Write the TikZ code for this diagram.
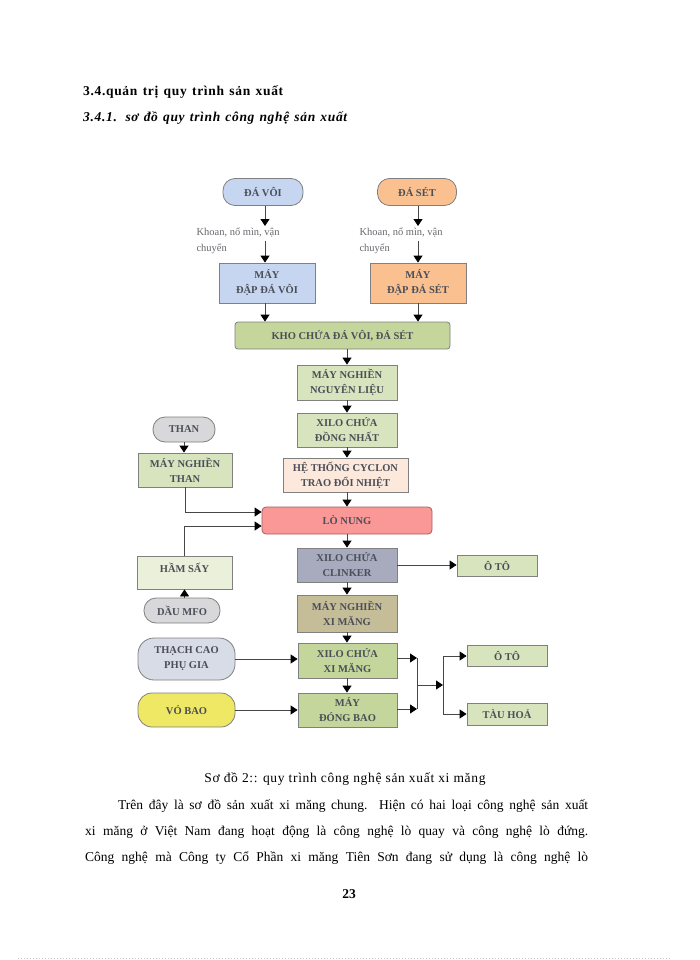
\documentclass[tikz,border=0pt]{standalone}
\usepackage{fontspec}
\setmainfont{Liberation Serif}
\newfontfamily\hsp[LetterSpace=5]{Liberation Serif}
\usetikzlibrary{arrows.meta}
\definecolor{boxline}{RGB}{128,128,128}
\definecolor{boxtext}{RGB}{75,78,88}
\definecolor{lnc}{RGB}{70,70,70}
\definecolor{fblue}{RGB}{198,214,240}
\definecolor{forange}{RGB}{250,192,144}
\definecolor{fkho}{RGB}{196,214,155}
\definecolor{flg}{RGB}{215,228,189}
\definecolor{fcyc}{RGB}{252,233,220}
\definecolor{fred}{RGB}{250,152,152}
\definecolor{redline}{RGB}{170,90,90}
\definecolor{fclink}{RGB}{168,171,190}
\definecolor{fham}{RGB}{234,240,218}
\definecolor{fgray}{RGB}{216,216,218}
\definecolor{fkhaki}{RGB}{196,189,151}
\definecolor{fxm}{RGB}{196,214,155}
\definecolor{fthach}{RGB}{216,220,230}
\definecolor{fyel}{RGB}{238,232,100}
\definecolor{noteclr}{RGB}{105,105,110}
\begin{document}
\begin{tikzpicture}[x=1pt,y=-1pt,
  box/.style={draw=boxline, line width=0.8pt, inner sep=0pt, align=center,
    font=\fontsize{10.5}{12.5}\selectfont\bfseries, text=boxtext},
  pill/.style={box, rounded corners=12pt},
  rbox/.style={box, rounded corners=3pt},
  arr/.style={draw=lnc, line width=0.8pt, -{Triangle[width=9pt,length=7pt,fill=black,color=black]}},
  ln/.style={draw=lnc, line width=0.8pt},
  note/.style={anchor=west, align=left, text=noteclr, font=\fontsize{10.5}{12}\selectfont},
  body/.style={anchor=base west, inner sep=0pt, font=\fontsize{13.5}{16}\selectfont}]
\useasboundingbox (0,0) rectangle (700,960);
\fill[white] (0,0) rectangle (700,960);

% headings
\node[body, font=\fontsize{13.5}{16}\hsp\bfseries] (h1) at (83,96) {\makebox[200pt][s]{3.4.quản trị quy trình sản xuất}};
\node[body, font=\fontsize{13.5}{16}\hsp\bfseries\itshape] (h2) at (83,122) {\makebox[264pt][s]{3.4.1. sơ đồ quy trình công nghệ sản xuất}};

% top sources
\node[pill, fill=fblue, minimum width=80pt, minimum height=27pt] (davoi) at (263,192) {ĐÁ VÔI};
\node[pill, fill=forange, minimum width=79pt, minimum height=27pt] (daset) at (417,192) {ĐÁ SÉT};

\node[note] (n1) at (193,241) {Khoan, nổ mìn, vận\\[4pt]chuyển};
\node[note] (n2) at (356,241) {Khoan, nổ mìn, vận\\[4pt]chuyển};

\node[box, fill=fblue, minimum width=96pt, minimum height=40pt] (mdvoi) at (267,283) {MÁY\\[2.5pt]ĐẬP ĐÁ VÔI};
\node[box, fill=forange, minimum width=96pt, minimum height=40pt] (mdset) at (418,283) {MÁY\\[2.5pt]ĐẬP ĐÁ SÉT};

\node[rbox, fill=fkho, minimum width=215pt, minimum height=27pt] (kho) at (342.5,335.5) {KHO CHỨA ĐÁ VÔI, ĐÁ SÉT};

\node[box, fill=flg, minimum width=100pt, minimum height=35pt] (mnnl) at (347,382.5) {MÁY NGHIỀN\\[2.5pt]NGUYÊN LIỆU};
\node[box, fill=flg, minimum width=100pt, minimum height=34pt] (xdn) at (347,430) {XILO CHỨA\\[2.5pt]ĐỒNG NHẤT};
\node[box, fill=fcyc, minimum width=125pt, minimum height=34pt] (cyc) at (345.5,475) {HỆ THỐNG CYCLON\\[2.5pt]TRAO ĐỔI NHIỆT};

\node[pill, fill=fgray, minimum width=62pt, minimum height=25pt] (than) at (184,429.5) {THAN};
\node[box, fill=flg, minimum width=94pt, minimum height=34pt] (mnthan) at (185,470) {MÁY NGHIỀN\\[2.5pt]THAN};

\node[rbox, draw=redline, fill=fred, minimum width=170pt, minimum height=27pt, rounded corners=4pt] (lonung) at (347,520.5) {LÒ NUNG};

\node[box, fill=fclink, minimum width=100pt, minimum height=34pt] (clink) at (347,565) {XILO CHỨA\\[2.5pt]CLINKER};
\node[box, fill=flg, minimum width=80pt, minimum height=21pt] (oto1) at (497,565.5) {Ô TÔ};

\node[box, fill=fham, minimum width=95pt, minimum height=33pt] (hamsay) at (184.5,572.5) {HẦM SẤY\\[-3pt]\mbox{}};
\node[pill, fill=fgray, minimum width=76pt, minimum height=25pt] (mfo) at (182,610.5) {DẦU MFO};

\node[box, fill=fkhaki, minimum width=100pt, minimum height=37pt] (mnxm) at (347,613.5) {MÁY NGHIỀN\\[2.5pt]XI MĂNG};
\node[box, fill=fxm, minimum width=99pt, minimum height=35pt] (xxm) at (347.5,660.5) {XILO CHỨA\\[2.5pt]XI MĂNG};
\node[box, fill=fxm, minimum width=99pt, minimum height=34pt] (db) at (347.5,710) {MÁY\\[2.5pt]ĐÓNG BAO};

\node[pill, fill=fthach, minimum width=97pt, minimum height=42pt, rounded corners=16pt] (thach) at (186.5,659) {THẠCH CAO\\[2.5pt]PHỤ GIA};
\node[pill, fill=fyel, minimum width=97pt, minimum height=34pt, rounded corners=14pt] (vobao) at (186.5,710) {VỎ BAO};

\node[box, fill=flg, minimum width=80pt, minimum height=21pt] (oto2) at (507,655.5) {Ô TÔ};
\node[box, fill=flg, minimum width=80pt, minimum height=22pt] (tau) at (507,714) {TÀU HOẢ};

% helper coordinates
\coordinate (a1) at (265,226);
\coordinate (a2) at (265,241);
\coordinate (b1) at (418,226);
\coordinate (b2) at (418,241);
\coordinate (j1) at (417,658);
\coordinate (j2) at (417,709);
\coordinate (j3) at (417,685);
\coordinate (j4) at (443,685);
\coordinate (k1) at (443,656);
\coordinate (k2) at (443,714);

% connectors
\draw[arr] (davoi.south -| a1) -- (a1);
\draw[arr] (a2) -- (mdvoi.north -| a2);
\draw[arr] (daset.south -| b1) -- (b1);
\draw[arr] (b2) -- (mdset.north -| b2);
\draw[arr] (mdvoi.south -| a1) -- (kho.north -| a1);
\draw[arr] (mdset.south -| b1) -- (kho.north -| b1);
\draw[arr] (kho.south -| mnnl) -- (mnnl.north);
\draw[arr] (mnnl) -- (xdn.north);
\draw[arr] (xdn) -- (xdn.north |- cyc.north);
\draw[arr] (cyc.south -| lonung) -- (lonung.north);
\draw[arr] (than) -- (than.south |- mnthan.north);
\draw[arr] (mnthan.south) |- ([yshift=8.5pt]lonung.west);
\draw[arr] (hamsay.north) |- ([yshift=-5.5pt]lonung.west);
\draw[arr] (mfo.north -| hamsay.south) -- (hamsay.south);
\draw[arr] (lonung.south) -- (clink.north);
\draw[arr] (clink.east) -- (oto1.west |- clink.east);
\draw[arr] (clink.south) -- (mnxm.north);
\draw[arr] (mnxm.south) -- (mnxm.south |- xxm.north);
\draw[arr] (xxm.south -| mnxm) -- (db.north -| mnxm);
\draw[arr] (thach.east) -- (thach.east -| xxm.west);
\draw[arr] (vobao.east) -- (db.west);
\draw[arr] (xxm.east |- j1) -- (j1);
\draw[arr] (db.east |- j2) -- (j2);
\draw[ln] (j1) -- (j2);
\draw[arr] (j3) -- (j4);
\draw[ln] (k1) -- (k2);
\draw[arr] (k1) -- (k1 -| oto2.west);
\draw[arr] (k2) -- (tau.west);

% caption and body
\node[anchor=base, inner sep=0pt, font=\fontsize{13.5}{16}\hsp] (cap) at (345,782) {Sơ đồ 2:: quy trình công nghệ sản xuất xi măng};
\node[body] (t1) at (118,809) {\makebox[470pt][s]{Trên đây là sơ đồ sản xuất xi măng chung. Hiện có hai loại công nghệ sản xuất}};
\node[body] (t2) at (85,835) {\makebox[503pt][s]{xi măng ở Việt Nam đang hoạt động là công nghệ lò quay và công nghệ lò đứng.}};
\node[body] (t3) at (85,861) {\makebox[503pt][s]{Công nghệ mà Công ty Cổ Phần xi măng Tiên Sơn đang sử dụng là công nghệ lò}};
\node[anchor=base, inner sep=0pt, font=\fontsize{13.5}{16}\selectfont\bfseries] (pg) at (349,898) {23};

\draw[gray!45, line width=0.6pt, dash pattern=on 0.8pt off 2.2pt] (18,958.5) -- (672,958.5);
\end{tikzpicture}
\end{document}
